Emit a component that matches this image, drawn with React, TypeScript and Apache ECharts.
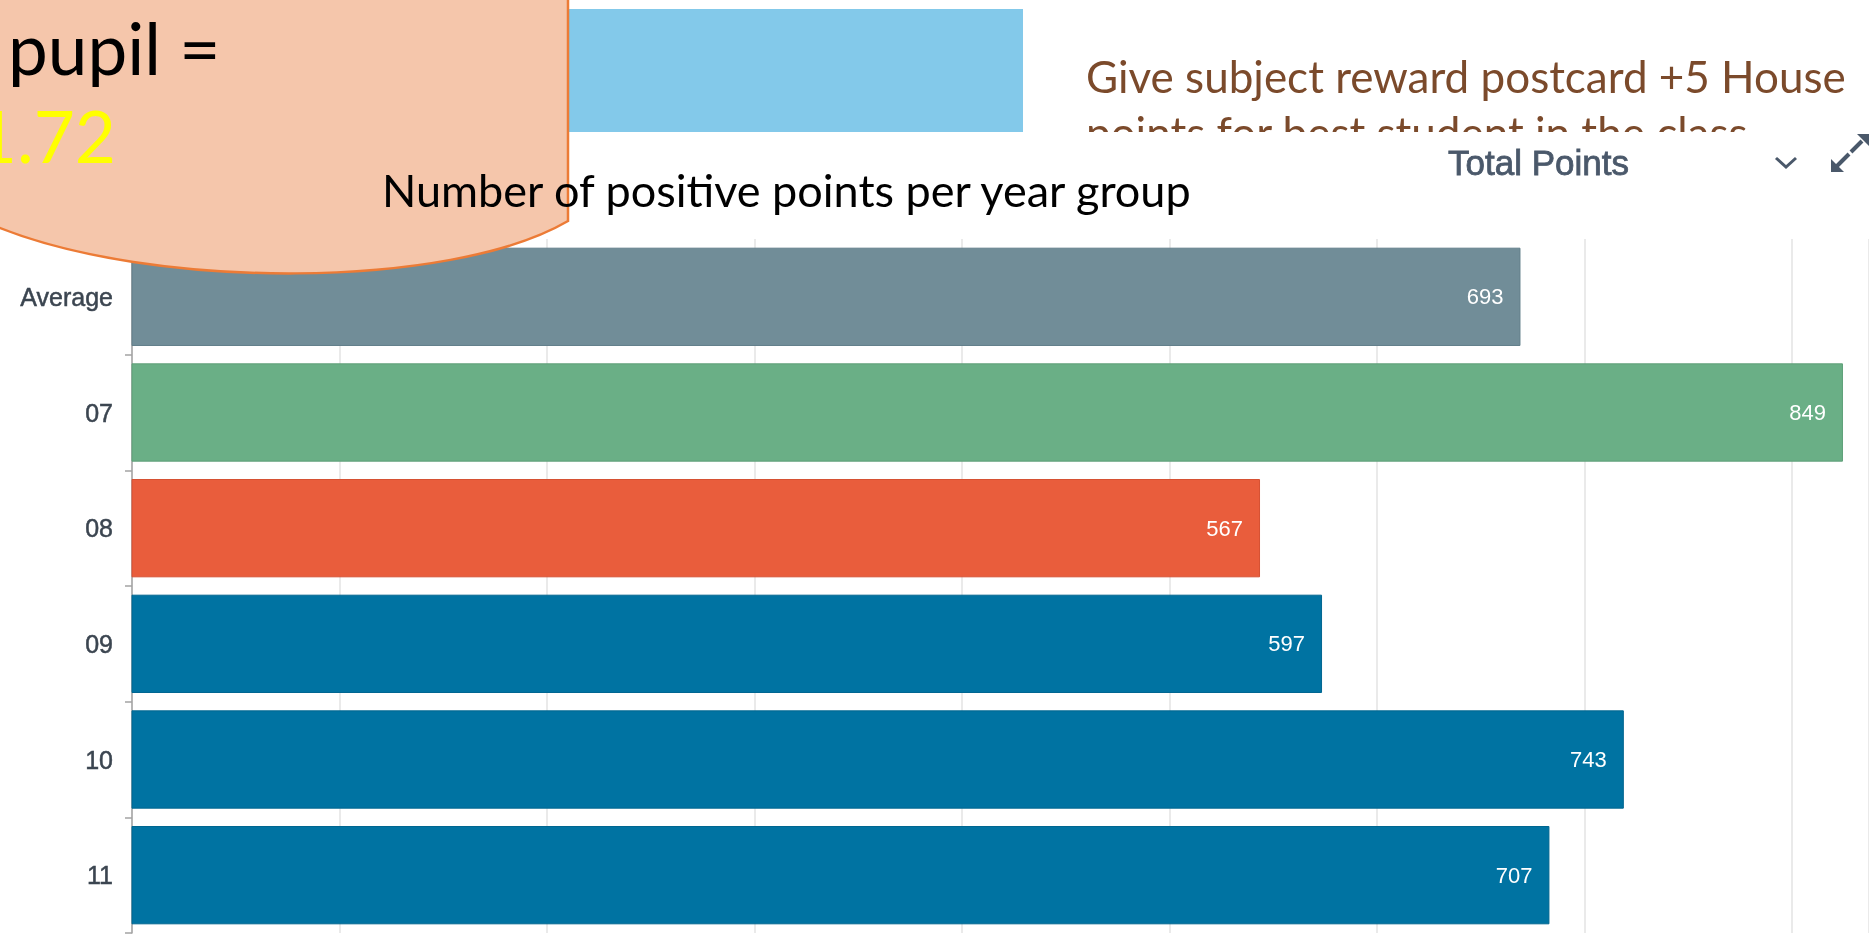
import React, { useEffect, useRef } from "react";
import * as echarts from "echarts";

const categories = ["Average", "07", "08", "09", "10", "11"];
const values = [693, 849, 567, 597, 743, 707];
const barColors = ["#718d98", "#6aaf86", "#e95d3c", "#0073a2", "#0073a2", "#0073a2"];
const barBorders = ["#637f8a", "#5e9f78", "#d65133", "#006690", "#006690", "#006690"];

const titleText = "Number of positive points per year group";
const calloutLine1 = "pupil =";
const calloutValue = "1.72";
const noteLine1 = "Give subject reward postcard +5 House";
const noteLine2 = "points for best student in the class";
const metricLabel = "Total Points";

const CALLOUT_D = "M -5 -5 L 568 -5 L 568 221 C 450 290 150 290 -5 226 Z";
let registered = false;

export default function App() {
  const ref = useRef<HTMLDivElement>(null);
  useEffect(() => {
    if (!registered) {
      echarts.graphic.registerShape("callout", echarts.graphic.extendPath(CALLOUT_D, {}));
      registered = true;
    }
    const chart = echarts.init(ref.current!, undefined, { renderer: "svg" });
    const slate = "#4a586a";
    chart.setOption({
      animation: false,
      backgroundColor: "transparent",
      grid: { left: 132, right: 0, top: 239, bottom: 4, containLabel: false },
      xAxis: [
        {
          type: "value",
          min: 21.3,
          max: 861.6,
          axisLabel: { show: false },
          axisLine: { show: false },
          axisTick: { show: false },
          splitLine: { show: false },
        },
        {
          type: "value",
          min: 0,
          max: 837.1,
          interval: 100,
          axisLabel: { show: false },
          axisLine: { show: false },
          axisTick: { show: false },
          splitLine: { show: true, lineStyle: { color: "#e3e3e3", width: 1.5 } },
        },
      ],
      yAxis: {
        type: "category",
        inverse: true,
        data: categories,
        axisLine: { show: true, lineStyle: { color: "#a3a3a3", width: 1.5 } },
        axisTick: { show: true, length: 7, lineStyle: { color: "#a3a3a3", width: 1.5 } },
        axisLabel: {
          fontSize: 25,
          color: "#3b4550",
          margin: 19,
          fontFamily: "Liberation Sans, Arial, sans-serif",
          textBorderColor: "#3b4550",
          textBorderWidth: 0.5,
        },
      },
      series: [
        {
          type: "bar",
          xAxisIndex: 0,
          barCategoryGap: "15%",
          clip: true,
          data: values.map((v, i) => ({
            value: v,
            itemStyle: { color: barColors[i], borderColor: barBorders[i], borderWidth: 1 },
          })),
          label: {
            show: true,
            position: "insideRight",
            distance: 17,
            color: "#ffffff",
            fontSize: 22,
            fontFamily: "Liberation Sans, Arial, sans-serif",
          },
        },
      ],
      graphic: [
        { type: "rect", z: -3, shape: { x: 540, y: 9, width: 483, height: 124 }, style: { fill: "#83c9ea" } },
        {
          type: "text", z: -3, x: 1086, y: 76,
          style: { text: noteLine1, fill: "#7b4a2b", font: "44px Lato", verticalAlign: "middle", align: "left" },
        },
        {
          type: "text", z: -3, x: 1086, y: 132,
          style: { text: noteLine2, fill: "#7b4a2b", font: "44px Lato", verticalAlign: "middle", align: "left" },
        },
        { type: "rect", z: -2, shape: { x: 0, y: 132, width: 1869, height: 805 }, style: { fill: "#ffffff" } },
        {
          type: "text", z: 5, x: 1448, y: 162,
          style: {
            text: metricLabel, fill: slate, font: "35px Liberation Sans", verticalAlign: "middle", align: "left",
            stroke: slate, lineWidth: 0.8,
          },
        },
        {
          type: "polyline", z: 5,
          shape: { points: [[1776, 158], [1786, 167], [1796, 158]] },
          style: { stroke: slate, lineWidth: 3, fill: null },
        },
        { type: "line", z: 5, shape: { x1: 1849, y1: 154, x2: 1837, y2: 166 }, style: { stroke: slate, lineWidth: 4 } },
        { type: "polygon", z: 5, shape: { points: [[1831, 172], [1831, 159], [1844, 172]] }, style: { fill: slate } },
        { type: "line", z: 5, shape: { x1: 1851, y1: 152, x2: 1862, y2: 141 }, style: { stroke: slate, lineWidth: 4 } },
        { type: "polygon", z: 5, shape: { points: [[1870, 134], [1857, 134], [1870, 147]] }, style: { fill: slate } },
        {
          type: "callout", z: 10, x: 0, y: 0,
          style: { fill: "#f5c6ab", stroke: "#ec7b36", lineWidth: 2.5 },
        },
        {
          type: "text", z: 11, x: 8, y: 47,
          style: { text: calloutLine1, fill: "#000000", font: "71px Lato", verticalAlign: "middle", align: "left" },
        },
        {
          type: "text", z: 11, x: 116, y: 135,
          style: { text: calloutValue, fill: "#ffff00", font: "71px Lato", verticalAlign: "middle", align: "right" },
        },
        {
          type: "text", z: 12, x: 382, y: 190,
          style: { text: titleText, fill: "#000000", font: "45px Lato", verticalAlign: "middle", align: "left" },
        },
      ],
    });
    return () => chart.dispose();
  }, []);
  return <div ref={ref} style={{ position: "fixed", left: 0, top: 0, width: 1869, height: 937 }} />;
}
